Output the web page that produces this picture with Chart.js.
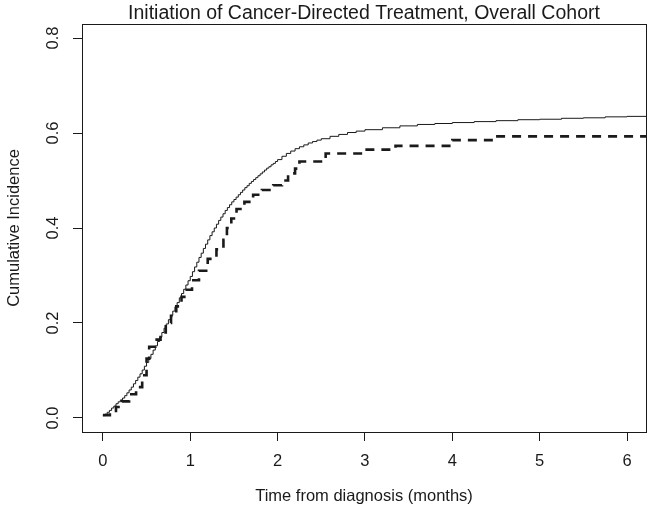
<!DOCTYPE html>
<html lang="en">
<head>
    <meta charset="UTF-8">
    <title>Initiation of Cancer-Directed Treatment</title>
    <script src="https://cdn.jsdelivr.net/npm/chart.js"></script>
    <style>
        body { margin: 0; background: #fff; }
        #wrap { width: 654px; height: 518px; }
    </style>
</head>
<body>
    <div id="wrap"><canvas id="cumChart"></canvas></div>

    <script>
        // (months, cumulative incidence)
        const solidTimes = [0, 0.025, 0.05, 0.075, 0.1, 0.125, 0.15, 0.175, 0.2, 0.225, 0.25, 0.275, 0.3, 0.325, 0.35, 0.375, 0.4, 0.425, 0.45, 0.475,
                            0.5, 0.525, 0.55, 0.575, 0.6, 0.625, 0.65, 0.675, 0.7, 0.725, 0.75, 0.775, 0.8, 0.825, 0.85, 0.875, 0.9, 0.925, 0.95, 0.975,
                            1.0, 1.025, 1.05, 1.075, 1.1, 1.125, 1.15, 1.175, 1.2, 1.225, 1.25, 1.275, 1.3, 1.325, 1.35, 1.375, 1.4, 1.425, 1.45, 1.475,
                            1.5, 1.525, 1.55, 1.575, 1.6, 1.625, 1.65, 1.675, 1.7, 1.725, 1.75, 1.775, 1.8, 1.825, 1.85, 1.875, 1.9, 1.925, 1.95, 1.975,
                            2.0, 2.05, 2.1, 2.15, 2.2, 2.25, 2.3, 2.35, 2.4, 2.45, 2.5, 2.6, 2.7, 2.8, 2.9, 3.0, 3.2, 3.4, 3.6, 3.8,
                            4.0, 4.25, 4.5, 4.75, 5.0, 5.25, 5.5, 5.75, 6.0, 6.25];
        const solidValues = [0.005, 0.008, 0.012, 0.016, 0.021, 0.025, 0.030, 0.034, 0.038, 0.042, 0.047, 0.053, 0.059, 0.065, 0.072, 0.079, 0.086, 0.093, 0.101, 0.109,
                             0.117, 0.125, 0.134, 0.143, 0.152, 0.161, 0.170, 0.180, 0.189, 0.198, 0.207, 0.216, 0.225, 0.234, 0.243, 0.253, 0.262, 0.271, 0.280, 0.289,
                             0.298, 0.308, 0.318, 0.328, 0.338, 0.347, 0.357, 0.366, 0.375, 0.384, 0.392, 0.400, 0.408, 0.416, 0.423, 0.430, 0.437, 0.443, 0.449, 0.455,
                             0.460, 0.465, 0.470, 0.475, 0.480, 0.485, 0.489, 0.494, 0.498, 0.502, 0.506, 0.510, 0.514, 0.518, 0.522, 0.526, 0.529, 0.533, 0.536, 0.540,
                             0.544, 0.551, 0.557, 0.562, 0.567, 0.571, 0.575, 0.579, 0.582, 0.585, 0.588, 0.593, 0.597, 0.601, 0.604, 0.607, 0.611, 0.615, 0.618, 0.620,
                             0.622, 0.624, 0.626, 0.628, 0.629, 0.631, 0.632, 0.634, 0.635, 0.637];

        const dashedTimes = [0, 0.08, 0.15, 0.22, 0.3, 0.38, 0.45, 0.5, 0.53, 0.6, 0.66, 0.72, 0.78, 0.84, 0.9, 0.96, 1.02, 1.1, 1.2, 1.3,
                             1.38, 1.42, 1.47, 1.53, 1.62, 1.72, 1.82, 1.95, 2.05, 2.12, 2.2, 2.25, 2.55, 3.0, 3.35, 4.0, 4.5, 6.25];
        const dashedValues = [0.006, 0.012, 0.023, 0.035, 0.050, 0.065, 0.090, 0.125, 0.150, 0.165, 0.180, 0.200, 0.215, 0.235, 0.255, 0.270, 0.290, 0.310, 0.335, 0.355,
                              0.375, 0.400, 0.420, 0.440, 0.455, 0.470, 0.480, 0.490, 0.500, 0.515, 0.525, 0.540, 0.557, 0.565, 0.573, 0.585, 0.593, 0.593];

        const xTicks = [0, 1, 2, 3, 4, 5, 6];
        const yTicks = [0, 0.2, 0.4, 0.6, 0.8];

        const chartTitle = 'Initiation of Cancer-Directed Treatment, Overall Cohort';
        const fontFamily = '"Liberation Sans", Arial, sans-serif';
        const ink = '#1a1a1a';

        const toPoints = (xs, ys) => xs.map((x, i) => ({ x: x, y: ys[i] }));

        // box around the plot region + centred main title (R style)
        const frame = {
            id: 'frame',
            afterDraw(chart) {
                const { ctx, chartArea: a } = chart;
                ctx.save();
                ctx.strokeStyle = ink;
                ctx.lineWidth = 1;
                ctx.strokeRect(Math.round(a.left) + 0.5, Math.round(a.top) + 0.5,
                               Math.round(a.right - a.left), Math.round(a.bottom - a.top));
                ctx.fillStyle = ink;
                ctx.font = '19.5px ' + fontFamily;
                ctx.textAlign = 'center';
                ctx.textBaseline = 'middle';
                ctx.fillText(chartTitle, (a.left + a.right) / 2, 14);
                ctx.restore();
            }
        };

        new Chart(document.getElementById('cumChart'), {
            type: 'line',
            data: {
                datasets: [{
                    label: 'Overall',
                    data: toPoints(solidTimes, solidValues),
                    stepped: true,
                    borderColor: ink,
                    borderWidth: 1,
                    pointRadius: 0,
                    fill: false
                }, {
                    label: 'Subgroup',
                    data: toPoints(dashedTimes, dashedValues),
                    stepped: true,
                    borderColor: ink,
                    borderWidth: 2.6,
                    borderDash: [9, 7],
                    pointRadius: 0,
                    fill: false
                }]
            },
            plugins: [frame],
            options: {
                responsive: true,
                maintainAspectRatio: false,
                animation: false,
                layout: { padding: { top: 24, right: 8, left: 0, bottom: 0 } },
                plugins: {
                    legend: { display: false },
                    tooltip: { enabled: false }
                },
                scales: {
                    x: {
                        type: 'linear',
                        min: -0.239,
                        max: 6.217,
                        afterBuildTicks: axis => { axis.ticks = xTicks.map(v => ({ value: v })); },
                        afterFit: axis => { axis.height = 86; },
                        border: { display: false },
                        grid: { drawOnChartArea: false, drawTicks: true, tickLength: 9, color: ink },
                        ticks: { color: ink, padding: 11, font: { family: fontFamily, size: 16.5 } },
                        title: {
                            display: true,
                            text: 'Time from diagnosis (months)',
                            color: ink,
                            font: { family: fontFamily, size: 16.5 },
                            padding: { top: 0, bottom: 12 }
                        }
                    },
                    y: {
                        type: 'linear',
                        min: -0.0295,
                        max: 0.8295,
                        afterBuildTicks: axis => { axis.ticks = yTicks.map(v => ({ value: v })); },
                        afterFit: axis => { axis.width = 82; },
                        border: { display: false },
                        grid: { drawOnChartArea: false, drawTicks: true, tickLength: 9, color: ink },
                        ticks: {
                            color: ink,
                            padding: 8,
                            minRotation: 90,
                            maxRotation: 90,
                            crossAlign: 'center',
                            font: { family: fontFamily, size: 16.5 },
                            callback: v => v.toFixed(1)
                        },
                        title: {
                            display: true,
                            text: 'Cumulative Incidence',
                            color: ink,
                            font: { family: fontFamily, size: 16.5 },
                            padding: { top: 5, bottom: 0 }
                        }
                    }
                }
            }
        });
    </script>
</body>
</html>
